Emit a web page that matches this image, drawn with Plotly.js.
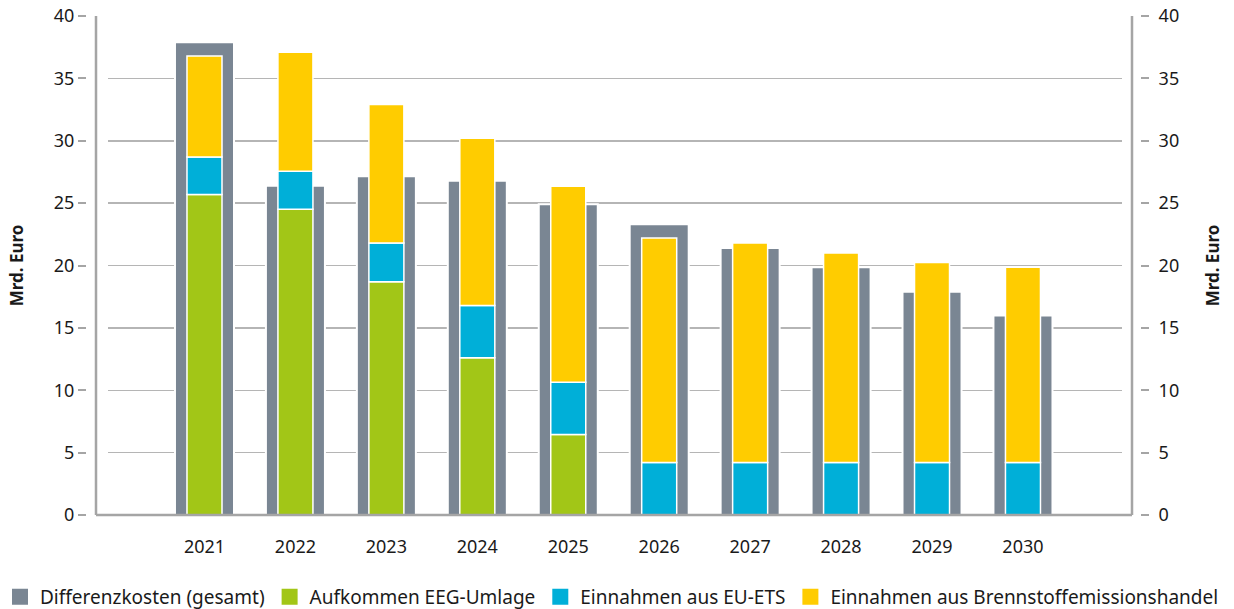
<!DOCTYPE html>
<html>
<head>
<meta charset="utf-8">
<script src="https://cdn.plot.ly/plotly-3.0.1.min.js"></script>
<style>html,body{margin:0;padding:0;background:#fff;}#chart{width:1234px;height:609px;}</style>
</head>
<body>
<div id="chart"></div>
<script>
// ---- data ----
const years = ['2021','2022','2023','2024','2025','2026','2027','2028','2029','2030'];
const totalCost = [37.9, 26.4, 27.15, 26.8, 24.9, 23.3, 21.4, 19.85, 17.9, 16.0];
const eegLevy   = [25.7, 24.5, 18.7, 12.6, 6.45, null, null, null, null, null];
const euEts     = [3.0, 3.05, 3.1, 4.2, 4.2, 4.2, 4.2, 4.2, 4.2, 4.2];
const fuelEmis  = [8.1, 9.55, 11.1, 13.4, 15.7, 18.0, 17.6, 16.8, 16.05, 15.65];
const yTicks = [0, 5, 10, 15, 20, 25, 30, 35, 40];
const names = ['Differenzkosten (gesamt)', 'Aufkommen EEG-Umlage', 'Einnahmen aus EU-ETS', 'Einnahmen aus Brennstoffemissionshandel'];

const cGray = '#7a8693', cGreen = '#a2c617', cBlue = '#00afd8', cYellow = '#ffcc00';
const FONT = '"Noto Sans", Lato, sans-serif';

const baseEts = eegLevy.map(v => v || 0);
const baseFuel = baseEts.map((v, i) => v + euEts[i]);

const W = 1234;
const px = p => p / W;   // pixel -> paper (margins l=r=0)
const traces = [
  {type:'bar', x: years, y: totalCost, width: 0.649, marker:{color:cGray, line:{color:'#fff', width:2}}, showlegend:false, hoverinfo:'y'},
  {type:'bar', x: years, y: eegLevy, width: 0.385, marker:{color:cGreen, line:{color:'#fff', width:1.5}}, showlegend:false},
  {type:'bar', x: years, y: euEts, base: baseEts, width: 0.385, marker:{color:cBlue, line:{color:'#fff', width:1.5}}, showlegend:false},
  {type:'bar', x: years, y: fuelEmis, base: baseFuel, width: 0.385, marker:{color:cYellow, line:{color:'#fff', width:1.5}}, showlegend:false}
];
[cGray, cGreen, cBlue, cYellow].forEach((c, i) => {
  traces.push({type:'scatter', mode:'markers', x:[null], y:[null], name: names[i], marker:{symbol:'square', size:16, color:c}, showlegend:true, hoverinfo:'skip'});
});
traces.push({type:'scatter', mode:'markers', x:[null], y:[null], yaxis:'y2', showlegend:false, hoverinfo:'skip'});

const axisLineColor = '#a5a5a5';
const layout = {
  width: 1234, height: 609,
  margin: {l:0, r:0, t:16, b:94, autoexpand:false},
  paper_bgcolor:'#fff', plot_bgcolor:'#fff',
  barmode:'overlay',
  font:{family:FONT, size:18, color:'#1a1a1a'},
  xaxis:{type:'category', domain:[px(108), px(1122)], range:[-1.061, 10.089], showgrid:false, zeroline:false, showline:false,
         ticks:'outside', ticklen:15, tickcolor:'rgba(0,0,0,0)', tickfont:{size:18, family:FONT}, fixedrange:true},
  yaxis:{range:[0,40], tickvals:yTicks, showgrid:true, gridcolor:'#b5b5b5', gridwidth:1.5, zeroline:false, showline:false,
         anchor:'free', position:px(108), shift:-22, ticks:'outside', ticklen:8, tickwidth:2, tickcolor:axisLineColor,
         tickfont:{size:18, family:FONT},
         title:{text:'<b>Mrd. Euro</b>', font:{size:17, family:FONT}, standoff:24}},
  yaxis2:{range:[0,40], tickvals:yTicks, overlaying:'y', side:'right', anchor:'free', position:px(1122), shift:18,
          showgrid:false, zeroline:false, showline:false, ticks:'outside', ticklen:8, tickwidth:2, tickcolor:axisLineColor,
          ticklabelstandoff:6,
          tickfont:{size:18, family:FONT},
          title:{text:'<b>Mrd. Euro</b>', font:{size:17, family:FONT}, standoff:28}},
  legend:{orientation:'h', x:0, xanchor:'left', y:-0.164, yanchor:'middle', font:{size:19, family:FONT}, itemsizing:'trace', traceorder:'normal', bgcolor:'rgba(0,0,0,0)'},
  shapes:[
    {type:'line', xref:'paper', yref:'paper', x0:px(96), x1:px(96), y0:0, y1:1, line:{color:axisLineColor, width:2.5}},
    {type:'line', xref:'paper', yref:'paper', x0:px(1132), x1:px(1132), y0:0, y1:1, line:{color:axisLineColor, width:2.5}},
    {type:'line', xref:'paper', yref:'paper', x0:px(96), x1:px(1132), y0:0, y1:0, line:{color:axisLineColor, width:2.5}}
  ]
};
Plotly.newPlot('chart', traces, layout, {displayModeBar:false, staticPlot:true});
</script>
</body>
</html>
